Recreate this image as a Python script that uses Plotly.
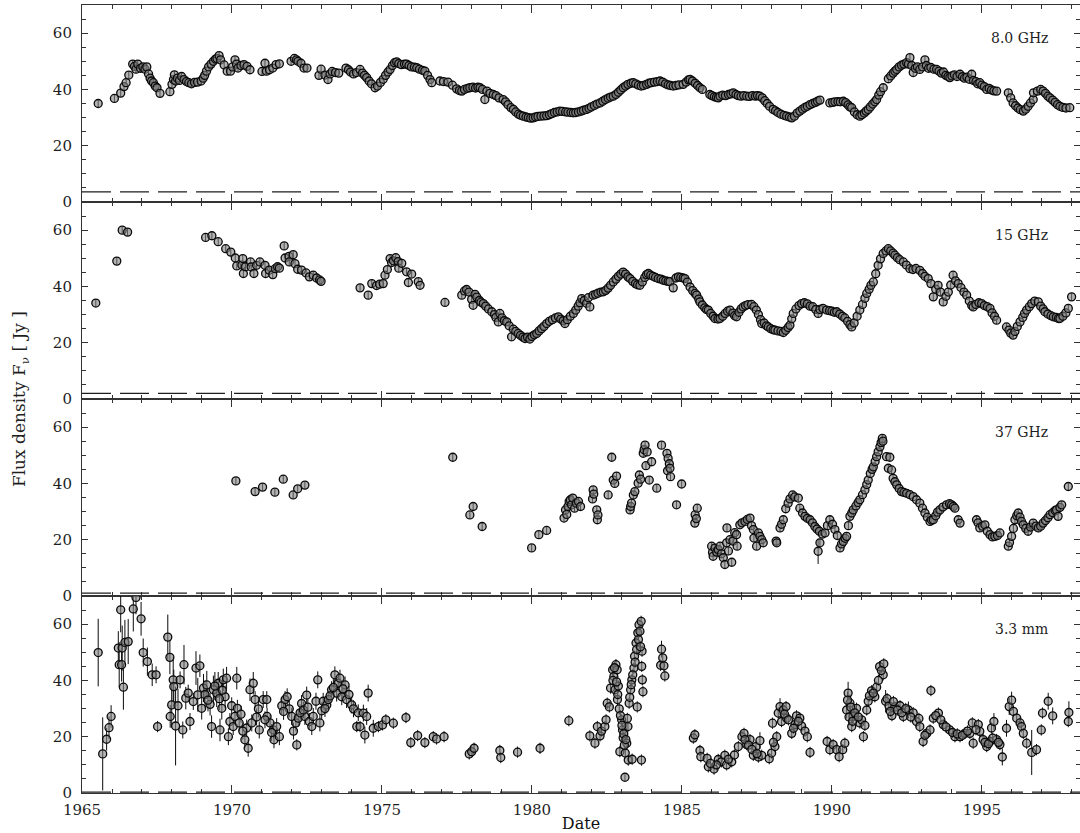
import plotly.graph_objects as go
from plotly.subplots import make_subplots

# ---------------- 8.0 GHz ----------------
t8 = [1965.54, 1966.08, 1966.29, 1966.40, 1966.47, 1966.56, 1966.69, 1966.75, 1966.80, 1966.86,
      1966.95, 1967.03, 1967.10, 1967.16, 1967.22, 1967.27, 1967.32, 1967.38, 1967.44, 1967.50,
      1967.60, 1967.93, 1968.00, 1968.05, 1968.08, 1968.12, 1968.18, 1968.25, 1968.32, 1968.40,
      1968.48, 1968.56, 1968.65, 1968.75, 1968.85, 1968.97, 1969.04, 1969.09, 1969.15, 1969.22,
      1969.30, 1969.38, 1969.45, 1969.50, 1969.57, 1969.62, 1969.74, 1969.84, 1969.95, 1970.02,
      1970.10, 1970.15, 1970.20, 1970.30, 1970.40, 1970.50, 1970.60, 1971.00, 1971.10, 1971.15,
      1971.25, 1971.36, 1971.47, 1971.58, 1971.97, 1972.08, 1972.15, 1972.20, 1972.30, 1972.40,
      1972.50, 1972.90, 1972.97, 1973.10, 1973.20, 1973.27, 1973.34, 1973.45, 1973.56, 1973.80,
      1973.88, 1973.95, 1974.05, 1974.15, 1974.27, 1974.35, 1974.42, 1974.49, 1974.57, 1974.65,
      1974.77, 1974.85, 1974.95, 1975.04, 1975.12, 1975.20, 1975.27, 1975.35, 1975.42, 1975.49,
      1975.56, 1975.65, 1975.75, 1975.82, 1975.90, 1975.98, 1976.08, 1976.16, 1976.25, 1976.35,
      1976.43, 1976.52, 1976.60, 1976.66, 1976.93, 1977.05, 1977.20, 1977.35, 1977.49, 1977.58,
      1977.66, 1977.75, 1977.85, 1977.93, 1978.03, 1978.12, 1978.20, 1978.27, 1978.35, 1978.43,
      1978.50, 1978.60, 1978.71, 1978.80, 1978.90, 1979.04, 1979.12, 1979.20, 1979.30, 1979.38,
      1979.46, 1979.55, 1979.62, 1979.71, 1979.80, 1979.88, 1979.96, 1980.04, 1980.12, 1980.20,
      1980.30, 1980.40, 1980.49, 1980.58, 1980.66, 1980.75, 1980.84, 1980.93, 1981.02, 1981.12,
      1981.20, 1981.30, 1981.38, 1981.46, 1981.55, 1981.64, 1981.72, 1981.82, 1981.90, 1981.98,
      1982.08, 1982.17, 1982.27, 1982.36, 1982.45, 1982.54, 1982.62, 1982.71, 1982.80, 1982.88,
      1982.96, 1983.04, 1983.12, 1983.20, 1983.30, 1983.38, 1983.46, 1983.55, 1983.64, 1983.72,
      1983.82, 1983.90, 1983.98, 1984.08, 1984.18, 1984.27, 1984.36, 1984.45, 1984.54, 1984.62,
      1984.71, 1984.80, 1984.90, 1985.04, 1985.14, 1985.22, 1985.27, 1985.35, 1985.44, 1985.52,
      1985.60, 1985.68, 1985.93, 1986.00, 1986.08, 1986.15, 1986.21, 1986.27, 1986.36, 1986.45,
      1986.55, 1986.63, 1986.71, 1986.80, 1986.88, 1986.97, 1987.06, 1987.16, 1987.25, 1987.35,
      1987.45, 1987.52, 1987.60, 1987.68, 1987.76, 1987.84, 1987.92, 1988.04, 1988.12, 1988.20,
      1988.30, 1988.40, 1988.49, 1988.58, 1988.66, 1988.75, 1988.84, 1988.93, 1989.02, 1989.10,
      1989.18, 1989.27, 1989.36, 1989.45, 1989.52, 1989.60, 1989.93, 1990.02, 1990.10, 1990.20,
      1990.28, 1990.38, 1990.46, 1990.54, 1990.60, 1990.66, 1990.75, 1990.84, 1990.93, 1991.00,
      1991.08, 1991.14, 1991.21, 1991.28, 1991.36, 1991.43, 1991.49, 1991.56, 1991.62, 1991.71,
      1991.88, 1991.96, 1992.04, 1992.10, 1992.16, 1992.24, 1992.32, 1992.40, 1992.49, 1992.55,
      1992.60, 1992.66, 1992.71, 1992.78, 1992.85, 1992.93, 1993.02, 1993.10, 1993.15, 1993.22,
      1993.30, 1993.40, 1993.49, 1993.57, 1993.65, 1993.72, 1993.80, 1993.87, 1993.93, 1994.00,
      1994.08, 1994.17, 1994.27, 1994.35, 1994.42, 1994.50, 1994.58, 1994.66, 1994.72, 1994.80,
      1994.86, 1994.93, 1995.00, 1995.08, 1995.16, 1995.24, 1995.32, 1995.40, 1995.49, 1995.88,
      1995.96, 1996.04, 1996.12, 1996.20, 1996.28, 1996.38, 1996.46, 1996.54, 1996.62, 1996.71,
      1996.72, 1996.85, 1996.96, 1997.04, 1997.12, 1997.20, 1997.27, 1997.36, 1997.44, 1997.52,
      1997.60, 1997.70, 1997.80, 1997.93]
f8 = [35.0, 36.8, 38.7, 41.0, 42.4, 45.1, 49.0, 48.2, 47.2, 49.0,
      47.5, 48.0, 47.2, 48.0, 45.5, 44.0, 43.0, 42.4, 41.2, 40.6,
      38.6, 39.2, 41.8, 43.5, 45.2, 43.0, 44.0, 43.2, 44.6, 43.5,
      42.8, 42.4, 42.0, 42.5, 42.6, 43.0, 44.0, 45.0, 46.5, 48.0,
      49.0, 50.0, 50.8, 51.0, 52.0, 50.5, 48.7, 46.5, 46.5, 48.0,
      50.5, 49.0, 47.6, 48.5, 48.8, 48.2, 47.0, 46.4, 49.3, 46.5,
      47.0, 47.6, 48.8, 49.1, 50.0, 51.0, 50.5, 50.0, 49.3, 47.6,
      47.6, 45.0, 47.2, 45.1, 43.5, 45.5, 46.4, 46.0, 45.8, 47.6,
      47.0, 46.2, 45.5, 46.0, 47.1, 45.8, 45.0, 44.2, 43.0, 42.0,
      40.6, 41.2, 42.5, 43.6, 45.0, 46.2, 47.1, 48.5, 49.5, 49.8,
      49.2, 48.8, 49.0, 49.0, 48.5, 48.0, 47.9, 47.7, 47.2, 46.8,
      46.5, 45.0, 43.5, 42.4, 43.0, 42.8, 42.6, 41.5, 40.2, 39.6,
      39.4, 40.0, 40.4, 40.6, 40.8, 40.5, 40.8, 40.6, 40.0, 36.4,
      39.4, 38.6, 38.2, 37.8, 37.0, 36.4, 35.6, 34.6, 33.5, 32.9,
      32.0, 31.2, 30.8, 30.5, 30.2, 30.0, 29.8, 29.9, 30.2, 30.4,
      30.5, 30.6, 30.7, 31.0, 31.4, 31.8, 32.0, 32.3, 32.2, 32.0,
      31.9, 31.8, 31.7, 31.8, 32.0, 32.3, 32.6, 32.9, 33.3, 33.8,
      34.3, 34.8, 35.2, 35.8, 36.4, 36.9, 37.3, 37.6, 38.2, 39.0,
      39.8, 40.6, 41.2, 41.8, 42.2, 42.4, 42.0, 41.5, 41.2, 41.4,
      41.8, 42.2, 42.4, 42.6, 42.8, 43.0, 42.6, 42.0, 41.6, 41.4,
      41.2, 41.4, 41.6, 41.8, 42.6, 43.4, 43.6, 43.0, 42.2, 41.4,
      40.6, 40.0, 38.2, 37.8, 37.4, 37.2, 37.0, 37.6, 38.0, 37.8,
      38.2, 38.4, 38.8, 38.2, 37.8, 37.6, 37.8, 37.6, 37.5, 37.8,
      37.6, 37.8, 37.6, 37.0, 36.0, 35.0, 34.0, 32.9, 32.4, 31.8,
      31.2, 30.8, 30.5, 30.2, 29.9, 30.5, 31.6, 32.3, 33.0, 33.6,
      34.0, 34.6, 35.0, 35.4, 35.8, 36.2, 35.2, 35.4, 35.6, 35.7,
      35.6, 35.8, 35.3, 34.5, 33.8, 33.5, 32.0, 31.0, 30.5, 31.0,
      31.6, 32.3, 32.9, 33.8, 34.8, 35.6, 36.4, 38.0, 39.2, 40.6,
      43.8, 44.8, 45.8, 46.5, 47.1, 48.0, 48.6, 49.0, 49.5, 49.0,
      51.3, 48.5, 46.0, 47.5, 48.0, 47.1, 48.0, 50.5, 48.5, 47.5,
      47.8, 47.2, 47.1, 46.5, 45.8, 46.2, 45.0, 44.6, 44.2, 44.8,
      45.2, 44.6, 45.4, 44.5, 44.0, 44.4, 43.6, 45.4, 43.2, 42.8,
      42.0, 42.4, 41.5, 41.0, 40.0, 40.4, 39.8, 39.5, 39.4, 38.8,
      37.0, 35.2, 34.2, 33.4, 32.8, 32.3, 33.0, 34.0, 35.2, 36.4,
      38.8, 39.4, 40.0, 39.4, 38.6, 37.6, 37.0, 36.2, 35.4, 34.6,
      34.0, 33.6, 33.4, 33.5]

# ---------------- 15 GHz ----------------
t15 = [1965.46, 1966.16, 1966.34, 1966.52, 1969.12, 1969.33, 1969.54, 1969.79, 1969.96, 1970.11,
       1970.16, 1970.33, 1970.36, 1970.38, 1970.45, 1970.62, 1970.64, 1970.73, 1970.82, 1970.93,
       1971.10, 1971.12, 1971.24, 1971.36, 1971.44, 1971.52, 1971.58, 1971.74, 1971.77, 1971.90,
       1971.91, 1972.04, 1972.10, 1972.19, 1972.32, 1972.47, 1972.58, 1972.71, 1972.82, 1972.92,
       1972.97, 1974.27, 1974.54, 1974.66, 1974.82, 1974.92, 1975.04, 1975.10, 1975.18, 1975.27,
       1975.32, 1975.38, 1975.46, 1975.54, 1975.56, 1975.66, 1975.82, 1975.88, 1975.99, 1976.21,
       1976.27, 1977.10, 1977.66, 1977.75, 1977.82, 1977.90, 1977.99, 1978.04, 1978.10, 1978.16,
       1978.25, 1978.30, 1978.38, 1978.46, 1978.55, 1978.66, 1978.75, 1978.80, 1978.88, 1978.93,
       1979.00, 1979.08, 1979.16, 1979.24, 1979.32, 1979.38, 1979.46, 1979.54, 1979.62, 1979.70,
       1979.77, 1979.85, 1979.93, 1980.00, 1980.08, 1980.16, 1980.24, 1980.32, 1980.40, 1980.49,
       1980.58, 1980.68, 1980.78, 1980.88, 1980.96, 1981.04, 1981.10, 1981.18, 1981.28, 1981.38,
       1981.46, 1981.54, 1981.60, 1981.66, 1981.74, 1981.82, 1981.88, 1981.93, 1982.04, 1982.12,
       1982.20, 1982.30, 1982.38, 1982.46, 1982.54, 1982.62, 1982.71, 1982.80, 1982.88, 1982.96,
       1983.04, 1983.12, 1983.20, 1983.27, 1983.36, 1983.45, 1983.52, 1983.60, 1983.68, 1983.76,
       1983.82, 1983.88, 1983.96, 1984.04, 1984.12, 1984.21, 1984.30, 1984.38, 1984.46, 1984.54,
       1984.60, 1984.71, 1984.80, 1984.88, 1984.96, 1985.04, 1985.10, 1985.18, 1985.27, 1985.36,
       1985.44, 1985.49, 1985.56, 1985.60, 1985.68, 1985.76, 1985.82, 1985.88, 1985.96, 1986.04,
       1986.10, 1986.20, 1986.27, 1986.36, 1986.44, 1986.52, 1986.60, 1986.70, 1986.76, 1986.82,
       1986.90, 1986.97, 1987.04, 1987.12, 1987.20, 1987.32, 1987.40, 1987.48, 1987.55, 1987.62,
       1987.66, 1987.74, 1987.82, 1987.88, 1987.96, 1988.04, 1988.10, 1988.20, 1988.30, 1988.38,
       1988.46, 1988.54, 1988.60, 1988.66, 1988.71, 1988.80, 1988.90, 1988.99, 1989.08, 1989.18,
       1989.27, 1989.36, 1989.46, 1989.54, 1989.60, 1989.70, 1989.82, 1989.92, 1990.00, 1990.08,
       1990.16, 1990.26, 1990.35, 1990.43, 1990.52, 1990.60, 1990.66, 1990.74, 1990.84, 1990.93,
       1991.02, 1991.10, 1991.16, 1991.24, 1991.30, 1991.38, 1991.46, 1991.54, 1991.62, 1991.71,
       1991.80, 1991.88, 1991.96, 1992.04, 1992.10, 1992.18, 1992.26, 1992.38, 1992.48, 1992.60,
       1992.70, 1992.80, 1992.93, 1993.02, 1993.10, 1993.21, 1993.30, 1993.38, 1993.46, 1993.54,
       1993.62, 1993.71, 1993.80, 1993.88, 1993.96, 1994.04, 1994.12, 1994.21, 1994.30, 1994.40,
       1994.49, 1994.58, 1994.66, 1994.71, 1994.80, 1994.90, 1994.99, 1995.08, 1995.18, 1995.27,
       1995.34, 1995.42, 1995.49, 1995.82, 1995.90, 1995.96, 1996.04, 1996.10, 1996.18, 1996.27,
       1996.36, 1996.42, 1996.49, 1996.58, 1996.66, 1996.76, 1996.88, 1996.96, 1997.04, 1997.10,
       1997.20, 1997.30, 1997.38, 1997.48, 1997.55, 1997.60, 1997.70, 1997.80, 1997.88, 1997.99]
f15 = [34.1, 49.0, 60.0, 59.3, 57.4, 58.0, 55.9, 53.4, 52.2, 50.1,
       47.3, 47.6, 49.9, 44.6, 47.0, 48.7, 46.9, 44.6, 47.5, 48.7,
       47.5, 44.6, 45.8, 44.2, 46.3, 47.0, 46.5, 54.4, 50.1, 50.7,
       48.7, 51.3, 48.1, 46.1, 45.8, 44.8, 43.4, 44.0, 43.0, 42.3,
       41.8, 39.5, 36.9, 41.0, 40.3, 40.8, 41.0, 44.0, 46.0, 49.9,
       48.5, 49.1, 50.2, 48.8, 46.5, 48.2, 45.2, 41.4, 44.4, 41.7,
       40.4, 34.3, 36.9, 38.4, 38.9, 38.0, 35.4, 33.3, 37.2, 36.2,
       35.0, 34.4, 33.9, 33.0, 32.0, 31.0, 30.0, 29.0, 27.4, 30.4,
       28.8, 27.8, 27.4, 26.0, 22.1, 24.8, 24.0, 23.3, 22.6, 22.0,
       21.5, 22.0, 21.3, 22.2, 22.8, 23.3, 24.2, 25.0, 25.8, 26.8,
       27.6, 28.2, 28.8, 29.2, 28.4, 27.8, 26.8, 28.2, 29.4, 30.4,
       31.6, 33.0, 34.2, 35.7, 35.0, 34.0, 36.0, 32.7, 36.9, 37.2,
       37.6, 38.0, 38.1, 38.6, 39.4, 40.4, 41.6, 42.6, 43.6, 44.4,
       45.1, 44.4, 43.4, 42.8, 41.8, 41.0, 40.6, 40.4, 41.6, 43.2,
       44.2, 44.6, 44.0, 43.6, 43.2, 42.8, 42.6, 42.2, 42.0, 41.8,
       41.7, 39.5, 43.0, 43.4, 43.2, 43.0, 42.8, 41.5, 39.8, 38.5,
       37.5, 36.9, 35.5, 34.5, 33.4, 32.4, 31.8, 31.6, 30.4, 29.4,
       28.6, 28.4, 28.6, 29.4, 30.4, 31.2, 31.6, 30.5, 29.6, 29.2,
       30.8, 32.0, 32.7, 33.2, 33.5, 33.6, 32.8, 31.6, 30.0, 28.2,
       26.8, 27.0, 26.0, 25.6, 25.0, 24.6, 24.5, 24.2, 24.0, 23.6,
       24.4, 25.4, 26.2, 28.5, 30.4, 32.0, 33.2, 33.9, 34.2, 33.8,
       33.0, 32.8, 31.8, 30.4, 31.8, 32.2, 31.6, 31.4, 31.2, 30.8,
       31.0, 30.2, 29.4, 28.8, 27.6, 26.4, 25.6, 27.0, 29.4, 31.6,
       33.6, 35.8, 37.5, 39.0, 40.4, 41.6, 44.5, 47.5, 49.8, 51.7,
       52.6, 53.4, 52.6, 51.8, 51.1, 50.2, 49.5, 48.7, 47.6, 46.3,
       46.0, 46.4, 45.7, 44.6, 43.6, 42.8, 41.0, 36.3, 39.0, 40.4,
       38.0, 34.5, 36.5, 38.0, 40.5, 44.0, 42.0, 41.0, 39.6, 38.0,
       36.9, 34.8, 33.2, 32.7, 33.6, 34.2, 33.9, 33.2, 32.8, 32.2,
       30.6, 29.4, 28.0, 25.6, 24.5, 23.4, 22.7, 24.0, 25.8, 27.4,
       29.0, 30.4, 31.6, 32.8, 33.9, 34.8, 34.5, 33.0, 32.0, 31.0,
       30.2, 29.6, 29.2, 29.0, 28.6, 28.6, 29.4, 30.6, 32.2, 36.3]

# ---------------- 37 GHz ----------------
t37 = [1970.13, 1970.77, 1971.02, 1971.43, 1971.71, 1972.04, 1972.19, 1972.43, 1977.36, 1977.93,
       1978.04, 1978.34, 1979.99, 1980.23, 1980.49, 1981.07, 1981.12, 1981.16, 1981.20, 1981.24,
       1981.28, 1981.32, 1981.36, 1981.42, 1981.48, 1981.55, 1981.62, 1982.02, 1982.04, 1982.06,
       1982.16, 1982.18, 1982.20, 1982.54, 1982.66, 1982.71, 1982.76, 1982.82, 1983.27, 1983.29,
       1983.32, 1983.38, 1983.43, 1983.54, 1983.58, 1983.62, 1983.71, 1983.74, 1983.77, 1983.80,
       1983.84, 1983.91, 1983.99, 1984.16, 1984.32, 1984.50, 1984.52, 1984.54, 1984.58, 1984.60,
       1984.62, 1984.82, 1984.99, 1985.43, 1985.44, 1985.48, 1985.51, 1985.99, 1986.02, 1986.04,
       1986.10, 1986.16, 1986.21, 1986.27, 1986.32, 1986.38, 1986.43, 1986.49, 1986.50, 1986.55,
       1986.60, 1986.66, 1986.70, 1986.76, 1986.82, 1986.84, 1986.93, 1987.00, 1987.10, 1987.18,
       1987.27, 1987.32, 1987.38, 1987.40, 1987.49, 1987.55, 1987.60, 1987.66, 1987.71, 1988.14,
       1988.16, 1988.27, 1988.32, 1988.38, 1988.46, 1988.54, 1988.60, 1988.69, 1988.76, 1988.88,
       1988.93, 1989.02, 1989.10, 1989.18, 1989.27, 1989.35, 1989.43, 1989.50, 1989.54, 1989.58,
       1989.60, 1989.68, 1989.77, 1989.85, 1989.93, 1990.02, 1990.10, 1990.18, 1990.27, 1990.32,
       1990.38, 1990.44, 1990.49, 1990.55, 1990.60, 1990.66, 1990.71, 1990.80, 1990.87, 1990.93,
       1991.02, 1991.10, 1991.16, 1991.21, 1991.28, 1991.34, 1991.38, 1991.44, 1991.49, 1991.54,
       1991.60, 1991.64, 1991.68, 1991.70, 1991.82, 1991.88, 1991.93, 1991.99, 1992.04, 1992.10,
       1992.16, 1992.24, 1992.32, 1992.40, 1992.49, 1992.60, 1992.71, 1992.82, 1992.93, 1993.02,
       1993.10, 1993.18, 1993.27, 1993.32, 1993.38, 1993.46, 1993.52, 1993.60, 1993.70, 1993.82,
       1993.92, 1993.99, 1994.05, 1994.10, 1994.21, 1994.27, 1994.82, 1994.87, 1994.93, 1995.02,
       1995.10, 1995.18, 1995.27, 1995.35, 1995.43, 1995.52, 1995.60, 1995.88, 1995.92, 1995.99,
       1996.05, 1996.10, 1996.16, 1996.21, 1996.27, 1996.32, 1996.38, 1996.46, 1996.54, 1996.62,
       1996.71, 1996.80, 1996.88, 1996.96, 1997.04, 1997.12, 1997.20, 1997.27, 1997.36, 1997.44,
       1997.49, 1997.54, 1997.60, 1997.66, 1997.88]
f37 = [40.9, 37.1, 38.7, 36.9, 41.5, 35.9, 38.1, 39.4, 49.3, 28.8,
       31.8, 24.7, 17.1, 21.8, 23.3, 27.7, 30.6, 29.0, 31.8, 33.6,
       34.2, 32.4, 34.8, 31.2, 33.0, 33.6, 31.8, 34.5, 37.7, 36.2,
       30.6, 27.1, 28.8, 35.9, 49.3, 41.2, 40.0, 42.6, 30.6, 31.8,
       33.0, 35.9, 37.1, 40.1, 43.0, 41.5, 50.7, 52.0, 53.6, 46.3,
       51.2, 41.2, 47.7, 38.3, 53.6, 50.7, 44.5, 48.9, 47.0, 45.4,
       42.4, 32.4, 39.8, 25.9, 28.9, 27.5, 31.2, 17.7, 15.5, 14.1,
       17.0, 15.6, 16.5, 17.7, 15.0, 13.6, 11.2, 18.9, 24.2, 16.0,
       20.0, 12.0, 19.5, 22.5, 21.8, 17.7, 25.3, 26.0, 26.5, 27.2,
       27.7, 25.0, 23.6, 20.6, 17.7, 22.4, 21.2, 20.0, 18.9, 19.5,
       18.9, 24.2, 25.5, 27.1, 31.0, 33.0, 34.5, 35.9, 35.2, 34.8,
       31.2, 29.5, 28.3, 27.6, 27.1, 26.0, 24.7, 23.8, 15.9, 23.0,
       18.9, 22.0, 22.4, 25.0, 27.1, 25.5, 23.6, 21.5, 17.1, 18.5,
       19.4, 20.5, 21.2, 25.0, 28.3, 29.5, 30.6, 32.0, 33.2, 34.2,
       36.0, 37.7, 39.6, 41.2, 43.5, 45.0, 45.9, 47.8, 49.5, 51.2,
       53.0, 54.5, 56.0, 55.0, 49.5, 45.4, 49.3, 44.8, 41.8, 40.6,
       39.5, 38.2, 37.1, 36.8, 36.5, 36.0, 35.3, 34.2, 33.0, 31.2,
       29.5, 28.0, 26.5, 27.0, 27.1, 28.5, 29.8, 30.6, 31.6, 32.4,
       32.8, 32.4, 31.8, 31.2, 27.1, 25.9, 27.1, 26.0, 24.2, 24.8,
       25.3, 23.0, 21.8, 21.0, 21.2, 21.5, 22.4, 17.7, 19.0, 21.2,
       24.0, 27.1, 28.5, 29.5, 28.0, 26.5, 25.3, 24.0, 23.0, 24.5,
       25.9, 24.8, 24.2, 24.8, 25.9, 26.8, 27.8, 28.9, 29.6, 30.4,
       30.6, 28.3, 31.5, 32.4, 38.9]
# error bar of the 37 GHz point near 1989.5 is much longer than the rest
e37 = [4.5 if abs(t - 1989.54) < 0.001 else 1.3 for t in t37]

# ---------------- 3.3 mm ----------------
t33 = [1965.54, 1965.69, 1965.82, 1965.90, 1965.97, 1966.21, 1966.24, 1966.29, 1966.32, 1966.34,
       1966.38, 1966.43, 1966.54, 1966.71, 1966.80, 1966.97, 1967.04, 1967.18, 1967.34, 1967.47,
       1967.52, 1967.86, 1967.93, 1967.94, 1967.99, 1968.04, 1968.06, 1968.12, 1968.20, 1968.27,
       1968.36, 1968.40, 1968.46, 1968.54, 1968.60, 1968.71, 1968.80, 1968.86, 1968.93, 1968.99,
       1969.05, 1969.16, 1969.27, 1969.32, 1969.38, 1969.49, 1969.54, 1969.60, 1969.66, 1969.71,
       1969.77, 1969.82, 1969.88, 1969.93, 1969.99, 1970.04, 1970.10, 1970.16, 1970.18, 1970.24,
       1970.43, 1970.49, 1970.54, 1970.60, 1970.66, 1970.71, 1970.77, 1970.88, 1970.91, 1971.04,
       1971.16, 1971.17, 1971.27, 1971.38, 1971.40, 1971.49, 1971.58, 1971.66, 1971.77, 1971.84,
       1971.91, 1971.99, 1972.05, 1972.13, 1972.16, 1972.21, 1972.32, 1972.43, 1972.49, 1972.58,
       1972.66, 1972.71, 1972.80, 1972.86, 1972.93, 1972.99, 1973.04, 1973.16, 1973.21, 1973.32,
       1973.43, 1973.49, 1973.54, 1973.60, 1973.66, 1973.77, 1973.82, 1973.99, 1974.05, 1974.16,
       1974.21, 1974.27, 1974.38, 1974.43, 1974.49, 1974.54, 1974.71, 1974.88, 1975.02, 1975.13,
       1975.38, 1975.80, 1975.96, 1976.19, 1976.43, 1976.71, 1976.82, 1977.07, 1977.91, 1977.99,
       1978.07, 1978.93, 1978.96, 1979.52, 1980.27, 1981.23, 1981.93, 1982.10, 1982.18, 1982.27,
       1982.32, 1982.43, 1982.47, 1982.51, 1982.58, 1982.62, 1982.69, 1982.73, 1982.77, 1982.80,
       1982.84, 1982.88, 1982.85, 1982.91, 1982.93, 1982.99, 1983.02, 1983.04, 1983.10, 1983.11,
       1983.16, 1983.20, 1983.21, 1983.24, 1983.29, 1983.33, 1983.34, 1983.40, 1983.42, 1983.47,
       1983.51, 1983.53, 1983.57, 1983.64, 1983.65, 1983.67, 1983.68, 1984.29, 1984.32, 1984.36,
       1984.40, 1984.43, 1985.38, 1985.43, 1985.60, 1985.63, 1985.84, 1985.88, 1986.07, 1986.21,
       1986.32, 1986.43, 1986.49, 1986.66, 1986.88, 1987.00, 1987.07, 1987.16, 1987.27, 1987.38,
       1987.47, 1987.55, 1987.60, 1987.66, 1987.91, 1987.99, 1988.02, 1988.10, 1988.16, 1988.21,
       1988.27, 1988.32, 1988.38, 1988.47, 1988.49, 1988.66, 1988.77, 1988.82, 1988.93, 1988.99,
       1989.10, 1989.18, 1989.27, 1989.84, 1989.93, 1990.04, 1990.16, 1990.24, 1990.36, 1990.43,
       1990.49, 1990.54, 1990.60, 1990.66, 1990.71, 1990.82, 1990.93, 1990.99, 1991.05, 1991.16,
       1991.21, 1991.32, 1991.43, 1991.49, 1991.59, 1991.73, 1991.71, 1991.79, 1991.90, 1992.00,
       1992.10, 1992.27, 1992.38, 1992.55, 1992.71, 1992.82, 1992.93, 1993.04, 1993.16, 1993.27,
       1993.30, 1993.38, 1993.55, 1993.71, 1993.93, 1994.10, 1994.27, 1994.43, 1994.60, 1994.68,
       1994.71, 1994.88, 1994.93, 1995.04, 1995.16, 1995.27, 1995.32, 1995.40, 1995.49, 1995.60,
       1995.68, 1995.82, 1995.91, 1995.99, 1996.05, 1996.16, 1996.27, 1996.32, 1996.38, 1996.49,
       1996.66, 1996.82, 1996.98, 1997.02, 1997.21, 1997.36, 1997.88, 1997.90,
       1982.70, 1982.75, 1982.82, 1982.86, 1982.95, 1983.00, 1983.06, 1983.08, 1983.13, 1983.18,
       1983.26, 1983.31, 1983.36, 1983.44, 1983.49, 1983.55, 1983.60, 1983.62, 1983.66, 1983.70,
       1990.52, 1990.57, 1990.63, 1990.69, 1990.76, 1990.88, 1991.10, 1991.25, 1991.38, 1991.55,
       1991.65, 1991.84, 1991.95, 1992.05, 1992.18, 1992.33, 1992.46, 1992.63, 1992.90, 1993.10,
       1993.46, 1993.63, 1993.80, 1994.02, 1994.18, 1994.35, 1994.52, 1994.80, 1995.10, 1995.22,
       1995.36, 1995.55, 1988.05, 1988.42, 1988.55, 1988.72, 1988.88, 1987.10, 1987.22, 1987.33,
       1987.50, 1986.55, 1986.75, 1986.15, 1985.95, 1969.10, 1969.20, 1969.43, 1969.58, 1969.68,
       1970.30, 1970.36, 1970.82, 1971.10, 1971.32, 1971.72, 1972.27, 1972.38, 1972.53, 1973.10,
       1973.27, 1973.38, 1973.70, 1973.90]
f33 = [49.9, 13.9, 19.1, 23.2, 27.2, 51.5, 45.6, 65.1, 45.6, 51.5,
       37.6, 53.5, 53.8, 65.4, 69.5, 61.9, 49.9, 46.7, 42.0, 42.0,
       23.6, 55.4, 48.2, 27.2, 31.3, 40.2, 37.8, 23.8, 31.0, 40.2,
       22.4, 45.6, 33.7, 35.5, 25.4, 32.5, 44.4, 34.9, 45.2, 30.1,
       37.3, 38.4, 31.5, 23.6, 36.7, 35.5, 39.0, 22.4, 30.1, 40.2,
       34.2, 40.8, 20.0, 25.4, 31.0, 23.6, 27.2, 40.8, 30.1, 24.9,
       18.9, 23.1, 15.9, 36.7, 24.9, 39.0, 33.2, 29.9, 22.4, 33.2,
       33.2, 27.2, 24.9, 22.4, 18.9, 23.6, 20.0, 31.0, 33.2, 34.2,
       29.9, 27.2, 22.0, 24.9, 17.1, 26.6, 31.8, 27.2, 34.8, 25.4,
       23.6, 27.2, 32.6, 40.2, 24.9, 29.2, 32.6, 31.3, 33.2, 36.7,
       42.0, 35.5, 39.0, 40.8, 34.2, 38.4, 33.2, 31.3, 29.9, 23.6,
       28.5, 23.6, 28.4, 20.6, 27.2, 35.5, 23.0, 23.6, 24.2, 26.0,
       24.8, 26.8, 17.9, 20.4, 17.9, 20.0, 19.2, 20.0, 13.9, 14.7,
       15.9, 15.1, 12.6, 14.5, 15.9, 25.7, 20.3, 17.7, 23.6, 20.3,
       22.0, 23.6, 26.0, 31.9, 30.6, 37.3, 43.8, 41.4, 36.7, 45.6,
       43.8, 38.0, 33.2, 29.9, 14.7, 26.0, 22.4, 19.6, 5.6, 14.2,
       17.7, 23.6, 11.7, 31.9, 36.7, 40.2, 12.0, 44.4, 48.6, 53.3,
       30.6, 56.9, 59.8, 61.0, 11.7, 50.4, 40.2, 45.4, 51.1, 48.0,
       45.2, 41.6, 19.5, 20.7, 15.1, 12.9, 12.3, 9.3, 8.5, 11.9,
       11.1, 13.4, 10.0, 11.1, 16.5, 20.0, 21.2, 17.2, 19.0, 13.4,
       16.5, 12.8, 18.6, 13.4, 12.2, 14.2, 24.8, 16.5, 20.0, 28.4,
       30.7, 25.4, 29.5, 30.7, 26.6, 21.2, 24.3, 27.4, 26.6, 23.8,
       22.0, 20.0, 14.4, 18.3, 15.4, 17.2, 15.4, 12.9, 15.4, 17.7,
       29.5, 35.5, 32.0, 23.6, 27.2, 30.1, 24.9, 26.0, 20.0, 29.5,
       32.6, 36.3, 34.2, 37.6, 44.9, 45.9, 42.0, 32.6, 31.0, 27.5,
       30.6, 31.0, 27.2, 29.5, 28.5, 25.4, 23.6, 18.3, 21.2, 22.4,
       36.4, 26.6, 28.4, 24.3, 22.4, 20.0, 20.0, 21.2, 21.2, 24.9,
       17.7, 24.3, 21.9, 19.0, 16.5, 18.3, 23.1, 25.4, 19.0, 17.2,
       12.8, 23.0, 30.7, 33.0, 29.0, 26.6, 24.9, 23.6, 21.2, 17.7,
       14.4, 15.4, 22.4, 28.4, 32.6, 27.4, 25.4, 28.6,
       40.0, 44.5, 39.5, 35.0, 27.5, 24.0, 21.0, 17.0, 19.0, 26.5,
       34.0, 38.5, 42.0, 46.5, 51.0, 54.5, 57.5, 52.0, 45.0, 36.0,
       33.0, 27.0, 30.5, 25.5, 28.5, 27.0, 24.0, 34.5, 35.5, 40.0,
       43.5, 33.5, 29.0, 32.5, 29.5, 28.5, 30.0, 27.0, 26.5, 20.5,
       27.5, 26.0, 23.5, 21.5, 21.0, 20.5, 22.0, 22.5, 18.0, 17.5,
       19.5, 18.0, 18.0, 28.0, 26.0, 23.0, 25.5, 19.0, 17.0, 15.5,
       14.0, 12.0, 13.5, 10.0, 10.5, 35.0, 33.0, 38.0, 33.5, 36.5,
       28.0, 22.0, 27.0, 26.0, 21.5, 29.0, 28.5, 29.5, 30.5, 30.0,
       34.5, 37.5, 37.0, 35.0]
e33 = [12, 13, 4, 4, 4, 6, 8, 8, 6, 8,
       8, 8, 8, 8, 6, 6, 5, 5, 4, 3,
       2, 8, 6, 4, 8, 8, 6, 14, 6, 3,
       3, 7, 4, 3, 3, 3, 6, 6, 4, 4,
       5, 5, 4, 4, 5, 5, 4, 4, 4, 4,
       4, 4, 3, 3, 3, 3, 3, 4, 3, 3,
       3, 3, 3, 4, 3, 4, 3, 3, 3, 3,
       3, 3, 3, 3, 3, 3, 3, 3, 3, 3,
       3, 3, 3, 3, 2, 3, 3, 3, 3, 3,
       3, 3, 3, 3, 3, 3, 3, 3, 3, 3,
       3, 3, 3, 3, 3, 3, 3, 3, 3, 2,
       3, 2, 3, 3, 3, 3, 3, 2, 2, 2,
       2, 2, 2, 2, 2, 2, 2, 2, 2, 2,
       2, 2, 2, 2, 2, 2, 2, 2, 2, 2,
       2, 2, 2, 2, 2, 2, 2, 2, 2, 2,
       2, 2, 2, 2, 2, 2, 2, 2, 1, 2,
       2, 2, 2, 2, 2, 2, 2, 2, 2, 2,
       2, 2, 2, 2, 2, 2, 2, 2, 3, 2,
       2, 2, 2, 2, 2, 2, 2, 2, 2, 2,
       2, 2, 2, 2, 2, 2, 2, 2, 2, 2,
       2, 2, 3, 2, 2, 2, 2, 2, 2, 2,
       3, 2, 2, 2, 2, 2, 2, 2, 2, 2,
       2, 2, 2, 2, 2, 2, 2, 2, 2, 2,
       3, 4, 3, 2, 2, 2, 2, 2, 2, 2,
       2, 2, 2, 2, 2, 2, 2, 4, 2, 2,
       2, 2, 2, 3, 2, 2, 2, 2, 2, 2,
       2, 2, 2, 2, 2, 2, 2, 2, 2, 2,
       2, 2, 2, 2, 2, 2, 2, 3, 2, 2,
       3, 3, 3, 3, 2, 2, 2, 2, 2, 2,
       8, 2, 2, 2, 3, 3, 2, 4,
       2, 2, 2, 2, 2, 2, 2, 2, 2, 2,
       2, 2, 2, 2, 2, 2, 2, 2, 2, 2,
       3, 3, 2, 2, 2, 2, 2, 2, 2, 2,
       2, 2, 2, 2, 2, 2, 2, 2, 2, 2,
       2, 2, 2, 2, 2, 2, 2, 2, 2, 2,
       2, 2, 2, 2, 2, 2, 2, 2, 2, 2,
       2, 2, 2, 2, 2, 5, 4, 5, 4, 4,
       3, 3, 3, 3, 3, 3, 3, 3, 3, 3,
       3, 3, 3, 3]

# panel label, data, error size, dashed reference level
panels = [
    ("8.0 GHz", t8, f8, [1.3] * len(t8), 3.6),
    ("15 GHz", t15, f15, [1.3] * len(t15), 2.0),
    ("37 GHz", t37, f37, e37, 1.0),
    ("3.3 mm", t33, f33, e33, 0.3),
]

SERIF = "DejaVu Serif"
INK = "#1e1e1e"
FRAME = "#333333"

fig = make_subplots(rows=4, cols=1, shared_xaxes=True, vertical_spacing=0)

for i, (label, t, f, errs, level) in enumerate(panels, start=1):
    ax = "" if i == 1 else str(i)
    fig.add_trace(
        go.Scatter(
            x=t, y=f, mode="markers",
            marker=dict(symbol="circle", size=8, color="rgba(130,130,130,0.6)",
                        line=dict(color="#0a0a0a", width=1.3)),
            error_y=dict(type="data", array=errs, visible=True,
                         thickness=1, width=0, color="#0a0a0a"),
            showlegend=False, hoverinfo="skip",
        ),
        row=i, col=1,
    )
    fig.add_shape(type="line", xref=f"x{ax} domain", yref=f"y{ax}",
                  x0=0, x1=1, y0=level, y1=level,
                  line=dict(color=INK, width=1.2, dash="29px,9px"))
    fig.add_annotation(text=label, xref=f"x{ax} domain", yref=f"y{ax} domain",
                       x=0.97, y=0.83, xanchor="right", yanchor="middle",
                       showarrow=False, font=dict(family=SERIF, size=14, color=INK))

    fig.update_yaxes(
        row=i, col=1, range=[0, 70], tickvals=[0, 20, 40, 60],
        ticks="inside", ticklen=6, tickwidth=1, tickcolor=FRAME,
        minor=dict(ticks="inside", ticklen=4, dtick=5, tickcolor=FRAME, tickwidth=1, showgrid=False),
        showline=True, linecolor=FRAME, linewidth=1.1, mirror="ticks",
        showgrid=False, zeroline=False, ticklabelstandoff=6,
        tickfont=dict(family=SERIF, size=15, color=INK),
    )
    fig.update_xaxes(
        row=i, col=1, range=[1965, 1998.27], dtick=5, tick0=1965,
        ticks="inside", ticklen=8, tickwidth=1, tickcolor=FRAME,
        minor=dict(ticks="inside", ticklen=4, dtick=1, tickcolor=FRAME, tickwidth=1, showgrid=False),
        showline=True, linecolor=FRAME, linewidth=1.1, mirror="ticks",
        showgrid=False, zeroline=False,
        showticklabels=(i == 4),
        tickfont=dict(family=SERIF, size=15, color=INK),
    )

fig.update_xaxes(row=4, col=1, ticklabelstandoff=3,
                 title=dict(text="Date", font=dict(family=SERIF, size=16, color="#111111"),
                            standoff=0))

fig.add_annotation(text="Flux density F<sub>ν</sub> [ Jy ]", xref="paper", yref="paper",
                   x=-0.062, y=0.50, textangle=-90, showarrow=False,
                   xanchor="center", yanchor="middle",
                   font=dict(family=SERIF, size=17, color=INK))

fig.update_layout(
    width=1080, height=833,
    margin=dict(l=82, r=0, t=5, b=40),
    paper_bgcolor="white", plot_bgcolor="white",
)

fig.write_html("out.html")
